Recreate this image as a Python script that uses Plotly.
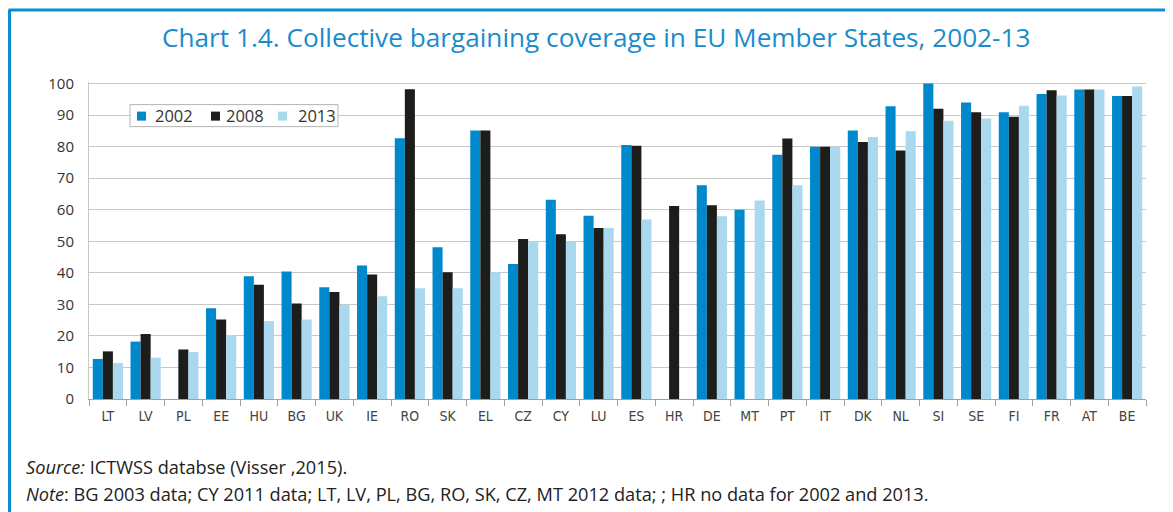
import plotly.graph_objects as go

countries = ["LT", "LV", "PL", "EE", "HU", "BG", "UK", "IE", "RO", "SK", "EL", "CZ", "CY", "LU",
             "ES", "HR", "DE", "MT", "PT", "IT", "DK", "NL", "SI", "SE", "FI", "FR", "AT", "BE"]
v2002 = [12.7, 18.2, None, 28.8, 38.9, 40.4, 35.4, 42.3, 82.7, 48.1, 85.1, 42.8, 63.2, 58.1,
         80.5, None, 67.8, 60.0, 77.4, 80.0, 85.1, 92.8, 100.0, 94.0, 90.9, 96.7, 98.1, 96.1]
v2008 = [15.1, 20.6, 15.7, 25.2, 36.2, 30.3, 33.9, 39.5, 98.2, 40.2, 85.1, 50.7, 52.2, 54.2,
         80.3, 61.2, 61.4, None, 82.6, 80.0, 81.5, 78.8, 92.0, 90.9, 89.5, 97.9, 98.1, 96.1]
v2013 = [11.4, 13.1, 14.9, 20.3, 24.7, 25.2, 29.9, 32.6, 35.1, 35.1, 40.2, 50.1, 50.1, 54.2,
         56.9, None, 57.9, 62.9, 67.8, 80.0, 83.1, 84.9, 88.2, 88.9, 93.0, 96.2, 98.1, 99.1]
series_names = ["2002", "2008", "2013"]
colors = ["#0088cc", "#1d1d1b", "#aad9ef"]
y_ticks = [0, 10, 20, 30, 40, 50, 60, 70, 80, 90, 100]

# page geometry (the page body has an 8px margin)
PAGE_W, PAGE_H = 1173, 512
OFF = 8
W, H = PAGE_W - OFF, PAGE_H - OFF
L, R = 89, 1146
BOT = 399
YMAX = 100.5
PLOT_H = 315 * YMAX / 100
TOP = BOT - PLOT_H


def px(x):
    return (x - L) / (R - L)


def py(y):
    return (BOT - y) / PLOT_H


fig = go.Figure()
for name, vals, col in zip(series_names, [v2002, v2008, v2013], colors):
    fig.add_trace(go.Bar(x=countries, y=vals, name=name, marker=dict(color=col, line=dict(width=0)),
                         showlegend=False))

fig.update_layout(
    width=W, height=H,
    margin=dict(l=L - OFF, r=PAGE_W - R, t=TOP - OFF, b=PAGE_H - BOT, autoexpand=False),
    paper_bgcolor="white", plot_bgcolor="white",
    barmode="group", bargap=0.2, bargroupgap=0.0,
    font=dict(family="Open Sans", color="#333333"),
)
fig.update_xaxes(
    type="category", showgrid=False, showline=True, linecolor="#a0a0a0", linewidth=1,
    ticks="outside", tickson="boundaries", ticklen=6, tickcolor="#a0a0a0",
    ticklabelstandoff=4,
    tickfont=dict(family="Liberation Sans Narrow, DejaVu Sans Condensed", size=14, color="#444444"),
)
fig.update_yaxes(
    range=[0, YMAX], tickvals=y_ticks, showgrid=True, gridcolor="#c8c8c8", gridwidth=1,
    showline=True, linecolor="#c8c8c8", linewidth=1, zeroline=False, ticks="",
    ticklabelstandoff=11, tickfont=dict(family="Open Sans", size=15, color="#333333"),
)

# frame lines
fig.add_shape(type="line", xref="paper", yref="paper", x0=px(8.5), x1=px(1180), y0=py(10.5), y1=py(10.5),
              line=dict(color="#0a8ed0", width=3), layer="above")
fig.add_shape(type="line", xref="paper", yref="paper", x0=px(9.5), x1=px(9.5), y0=py(10.5), y1=py(520),
              line=dict(color="#0a8ed0", width=3), layer="above")

# title
fig.add_annotation(text="Chart 1.4. Collective bargaining coverage in EU Member States, 2002-13",
                   xref="paper", yref="paper", x=px(596), y=py(37), xanchor="center", yanchor="middle",
                   showarrow=False, font=dict(family="Open Sans", size=26.2, color="#1a8ccb"))

# legend box
lx0, lx1, ly0, ly1 = 130, 338, 105, 127
fig.add_shape(type="rect", xref="paper", yref="paper", x0=px(lx0), x1=px(lx1), y0=py(ly0), y1=py(ly1),
              line=dict(color="#b4b4b4", width=1), fillcolor="white", layer="above")
sq_x = [137, 211, 278]
tx_x = [153, 224, 296]
for name, col, sx, tx in zip(series_names, colors, sq_x, tx_x):
    fig.add_shape(type="rect", xref="paper", yref="paper", x0=px(sx), x1=px(sx + 9), y0=py(112),
                  y1=py(121), line=dict(width=0), fillcolor=col, layer="above")
    fig.add_annotation(text=name, xref="paper", yref="paper", x=px(tx), y=py(116), xanchor="left",
                       yanchor="middle", showarrow=False,
                       font=dict(family="Open Sans", size=16.5, color="#333333"))

# footnotes
fig.add_annotation(text="<i>Source:</i> ICTWSS databse (Visser ,2015).", xref="paper", yref="paper",
                   x=px(24), y=py(467), xanchor="left", yanchor="middle", showarrow=False,
                   font=dict(family="Open Sans", size=18.2, color="#222222"))
fig.add_annotation(text="<i>Note</i>: BG 2003 data; CY 2011 data; LT, LV, PL, BG, RO, SK, CZ, MT 2012 data; ; HR no data for 2002 and 2013.",
                   xref="paper", yref="paper",
                   x=px(24), y=py(494), xanchor="left", yanchor="middle", showarrow=False,
                   font=dict(family="Open Sans", size=18.2, color="#222222"))

fig.write_html("out.html")
